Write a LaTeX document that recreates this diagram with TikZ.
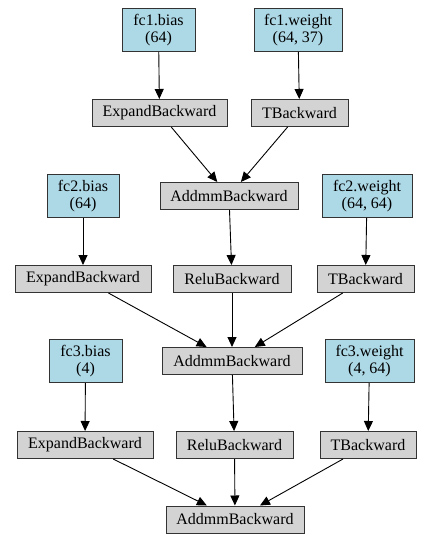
\documentclass[tikz,border=0pt]{standalone}
\usepackage{fontspec}
\setmainfont{Liberation Serif}
\usetikzlibrary{arrows.meta}
\definecolor{lblue}{HTML}{ADD8E6}
\definecolor{lgray}{HTML}{D3D3D3}
\tikzset{
  x=1pt, y=-1pt,
  base/.style={draw=black!80, line width=1pt, inner sep=0pt, align=center,
    font=\fontsize{16}{17}\selectfont},
  param/.style={base, fill=lblue, minimum height=43pt},
  op/.style={base, fill=lgray, minimum height=27pt},
  edge/.style={-{Triangle[length=10pt,width=9pt]}, line width=0.9pt, black}
}
\begin{document}
\begin{tikzpicture}
\useasboundingbox (0,0) rectangle (431,548);
% row 1
\node[param, minimum width=73pt] (fc1b) at (158.5,30) {fc1.bias\\(64)};
\node[param, minimum width=88pt] (fc1w) at (298,30) {fc1.weight\\(64, 37)};
% row 2
\node[op, minimum width=135pt] (exp1) at (159.5,113) {ExpandBackward};
\node[op, minimum width=97pt] (t1) at (299.5,113) {TBackward};
% row 3
\node[op, minimum width=138pt] (add1) at (229,196) {AddmmBackward};
\node[param, minimum width=72pt] (fc2b) at (83,196) {fc2.bias\\(64)};
\node[param, minimum width=90pt] (fc2w) at (367,196) {fc2.weight\\(64, 64)};
% row 4
\node[op, minimum width=136pt] (exp2) at (83,279) {ExpandBackward};
\node[op, minimum width=118pt] (relu2) at (232,279) {ReluBackward};
\node[op, minimum width=97pt] (t2) at (365.5,279) {TBackward};
% row 5
\node[op, minimum width=140pt] (add2) at (232,361) {AddmmBackward};
\node[param, minimum width=73pt] (fc3b) at (85.5,361) {fc3.bias\\(4)};
\node[param, minimum width=89pt] (fc3w) at (369.5,361) {fc3.weight\\(4, 64)};
% row 6
\node[op, minimum width=136pt] (exp3) at (85,445) {ExpandBackward};
\node[op, minimum width=117pt] (relu3) at (234.5,445) {ReluBackward};
\node[op, minimum width=96pt] (t3) at (368,445) {TBackward};
% row 7
\node[op, minimum width=138pt] (add3) at (235,519.5) {AddmmBackward};
% edges
\draw[edge] (fc1b) -- (exp1);
\draw[edge] (fc1w) -- (t1);
\draw[edge] (exp1) -- (add1);
\draw[edge] (t1) -- (add1);
\draw[edge] (add1) -- (relu2);
\draw[edge] (fc2b) -- (exp2);
\draw[edge] (fc2w) -- (t2);
\draw[edge] (exp2) -- (add2);
\draw[edge] (relu2) -- (add2);
\draw[edge] (t2) -- (add2);
\draw[edge] (add2) -- (relu3);
\draw[edge] (fc3b) -- (exp3);
\draw[edge] (fc3w) -- (t3);
\draw[edge] (exp3) -- (add3);
\draw[edge] (relu3) -- (add3);
\draw[edge] (t3) -- (add3);
\end{tikzpicture}
\end{document}
